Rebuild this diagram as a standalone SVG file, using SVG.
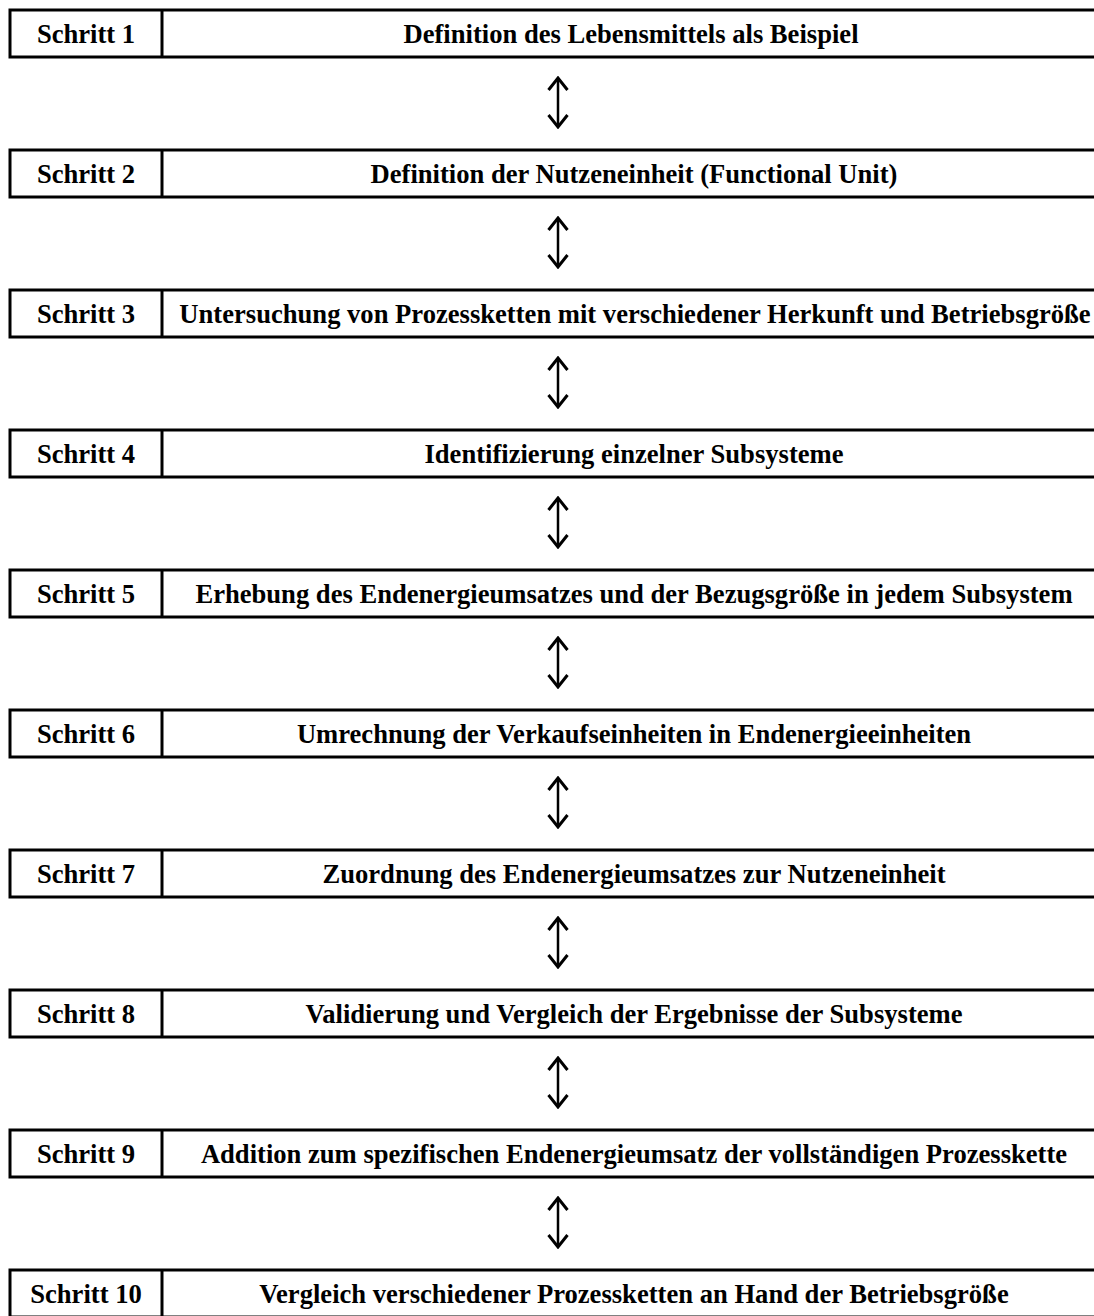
<svg xmlns="http://www.w3.org/2000/svg" width="1094" height="1316" viewBox="0 0 1094 1316">
<style>
.box{fill:#fff;stroke:#000;stroke-width:3}
.div{stroke:#000;stroke-width:3}
.t{font-family:"Liberation Serif","Times New Roman",serif;font-weight:bold;font-size:26.6px;fill:#000;text-anchor:middle}
.arr{stroke:#000;stroke-width:2.5;fill:none}
</style>
<defs>
<marker id="head" viewBox="0 0 16 24" refX="14" refY="12" markerWidth="16" markerHeight="24" markerUnits="userSpaceOnUse" orient="auto-start-reverse">
<path d="M2,2.5 L14,12 L2,21.5" fill="none" stroke="#000" stroke-width="3" stroke-linejoin="miter"/>
</marker>
</defs>
<g id="step1"><rect class="box" x="10" y="10" width="1100" height="47"/><line class="div" x1="162" y1="10" x2="162" y2="57"/><text class="t" x="86" y="43">Schritt 1</text><text class="t" x="631" y="43">Definition des Lebensmittels als Beispiel</text></g>
<g id="step2"><rect class="box" x="10" y="150" width="1100" height="47"/><line class="div" x1="162" y1="150" x2="162" y2="197"/><text class="t" x="86" y="183">Schritt 2</text><text class="t" x="634" y="183">Definition der Nutzeneinheit (Functional Unit)</text></g>
<g id="step3"><rect class="box" x="10" y="290" width="1100" height="47"/><line class="div" x1="162" y1="290" x2="162" y2="337"/><text class="t" x="86" y="323">Schritt 3</text><text class="t" x="635" y="323">Untersuchung von Prozessketten mit verschiedener Herkunft und Betriebsgröße</text></g>
<g id="step4"><rect class="box" x="10" y="430" width="1100" height="47"/><line class="div" x1="162" y1="430" x2="162" y2="477"/><text class="t" x="86" y="463">Schritt 4</text><text class="t" x="634" y="463">Identifizierung einzelner Subsysteme</text></g>
<g id="step5"><rect class="box" x="10" y="570" width="1100" height="47"/><line class="div" x1="162" y1="570" x2="162" y2="617"/><text class="t" x="86" y="603">Schritt 5</text><text class="t" x="634" y="603">Erhebung des Endenergieumsatzes und der Bezugsgröße in jedem Subsystem</text></g>
<g id="step6"><rect class="box" x="10" y="710" width="1100" height="47"/><line class="div" x1="162" y1="710" x2="162" y2="757"/><text class="t" x="86" y="743">Schritt 6</text><text class="t" x="634" y="743">Umrechnung der Verkaufseinheiten in Endenergieeinheiten</text></g>
<g id="step7"><rect class="box" x="10" y="850" width="1100" height="47"/><line class="div" x1="162" y1="850" x2="162" y2="897"/><text class="t" x="86" y="883">Schritt 7</text><text class="t" x="634" y="883">Zuordnung des Endenergieumsatzes zur Nutzeneinheit</text></g>
<g id="step8"><rect class="box" x="10" y="990" width="1100" height="47"/><line class="div" x1="162" y1="990" x2="162" y2="1037"/><text class="t" x="86" y="1023">Schritt 8</text><text class="t" x="634" y="1023">Validierung und Vergleich der Ergebnisse der Subsysteme</text></g>
<g id="step9"><rect class="box" x="10" y="1130" width="1100" height="47"/><line class="div" x1="162" y1="1130" x2="162" y2="1177"/><text class="t" x="86" y="1163">Schritt 9</text><text class="t" x="634" y="1163">Addition zum spezifischen Endenergieumsatz der vollständigen Prozesskette</text></g>
<g id="step10"><rect class="box" x="10" y="1270" width="1100" height="47"/><line class="div" x1="162" y1="1270" x2="162" y2="1317"/><text class="t" x="86" y="1303">Schritt 10</text><text class="t" x="634" y="1303">Vergleich verschiedener Prozessketten an Hand der Betriebsgröße</text></g>
<g id="connectors">
<line class="arr" x1="558" y1="78" x2="558" y2="127" marker-start="url(#head)" marker-end="url(#head)"/>
<line class="arr" x1="558" y1="218" x2="558" y2="267" marker-start="url(#head)" marker-end="url(#head)"/>
<line class="arr" x1="558" y1="358" x2="558" y2="407" marker-start="url(#head)" marker-end="url(#head)"/>
<line class="arr" x1="558" y1="498" x2="558" y2="547" marker-start="url(#head)" marker-end="url(#head)"/>
<line class="arr" x1="558" y1="638" x2="558" y2="687" marker-start="url(#head)" marker-end="url(#head)"/>
<line class="arr" x1="558" y1="778" x2="558" y2="827" marker-start="url(#head)" marker-end="url(#head)"/>
<line class="arr" x1="558" y1="918" x2="558" y2="967" marker-start="url(#head)" marker-end="url(#head)"/>
<line class="arr" x1="558" y1="1058" x2="558" y2="1107" marker-start="url(#head)" marker-end="url(#head)"/>
<line class="arr" x1="558" y1="1198" x2="558" y2="1247" marker-start="url(#head)" marker-end="url(#head)"/>
</g>
</svg>
